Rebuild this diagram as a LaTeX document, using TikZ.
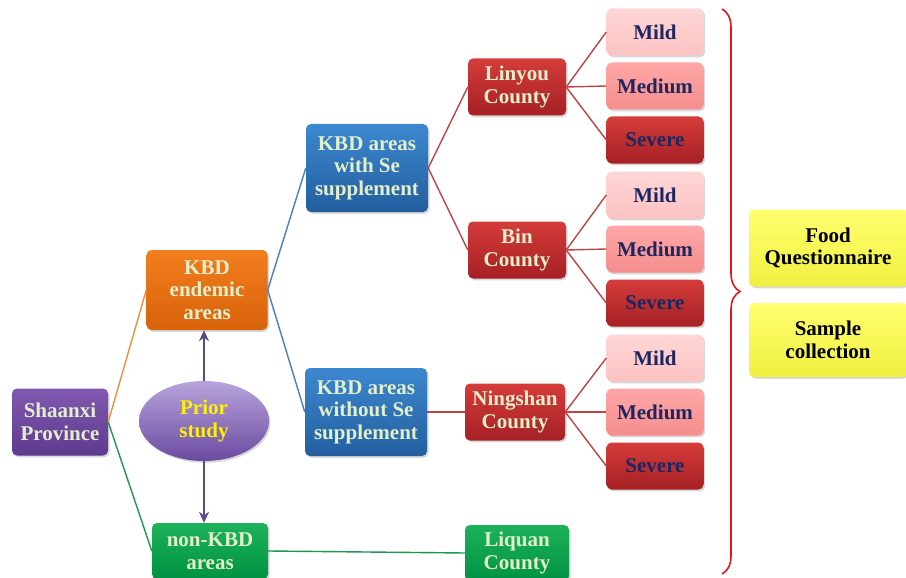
\documentclass[tikz,border=0pt]{standalone}
\usepackage{fontspec}
\setmainfont{Liberation Serif}
\newfontfamily\tnrbold{Liberation Serif Bold}
\usetikzlibrary{shadows,decorations.pathreplacing,arrows.meta,shapes.geometric}
\definecolor{txtlight}{HTML}{E2EFCB}
\definecolor{navy}{HTML}{1C2660}
\definecolor{purpT}{HTML}{8058B0}\definecolor{purpB}{HTML}{5E3A8E}
\definecolor{oranT}{HTML}{F27E1E}\definecolor{oranB}{HTML}{D8620A}
\definecolor{grenT}{HTML}{1DB25A}\definecolor{grenB}{HTML}{009243}
\definecolor{bluT}{HTML}{3C88D0}\definecolor{bluB}{HTML}{235E9E}
\definecolor{redT}{HTML}{D43C3A}\definecolor{redB}{HTML}{A62024}
\definecolor{mildT}{HTML}{FFD6D6}\definecolor{mildB}{HTML}{FDC2C2}
\definecolor{medT}{HTML}{FFA6A6}\definecolor{medB}{HTML}{F58E8E}
\definecolor{yelT}{HTML}{FFFF70}\definecolor{yelB}{HTML}{F0F040}
\definecolor{lnOrange}{HTML}{F0903A}
\definecolor{lnGreen}{HTML}{1A9A4A}
\definecolor{lnBlue}{HTML}{4A7EC0}
\definecolor{lnRed}{HTML}{C04444}
\definecolor{lnPurple}{HTML}{5A4A8A}
\definecolor{braceRed}{HTML}{E01818}
\definecolor{ellT}{HTML}{B8A4DC}\definecolor{ellB}{HTML}{6A4AA0}
\tikzset{
  boxfont/.style={font=\tnrbold\fontsize{21}{22.5}\selectfont},
  box/.style={rounded corners=5pt, align=center, inner sep=2pt, boxfont,
    drop shadow={shadow xshift=1.5pt, shadow yshift=-1.8pt, opacity=0.3}},
  purplebox/.style={box, top color=purpT, bottom color=purpB, text=txtlight},
  orangebox/.style={box, top color=oranT, bottom color=oranB, text=txtlight},
  greenbox/.style={box, top color=grenT, bottom color=grenB, text=txtlight},
  bluebox/.style={box, top color=bluT, bottom color=bluB, text=txtlight, minimum width=122pt, minimum height=88pt},
  countybox/.style={box, top color=redT, bottom color=redB, text=txtlight, minimum width=100pt, minimum height=57pt},
  mildbox/.style={box, top color=mildT, bottom color=mildB, text=navy, minimum width=97pt, minimum height=47pt},
  medbox/.style={box, top color=medT, bottom color=medB, text=navy, minimum width=97pt, minimum height=47pt},
  sevbox/.style={box, top color=redT, bottom color=redB, text=navy, minimum width=97pt, minimum height=47pt},
  yellowbox/.style={box, top color=yelT, bottom color=yelB, text=black, minimum width=158pt},
  conn/.style={line width=1.4pt},
  arrowline/.style={line width=2.6pt, draw=lnPurple, -{Stealth[length=11pt,width=10pt]}},
}
\begin{document}
\begin{tikzpicture}[x=1pt,y=-1pt]
\useasboundingbox (0,0) rectangle (906,578);
\fill[white] (0,0) rectangle (906,578);
% nodes
\node[purplebox, minimum width=96pt, minimum height=67pt] (shaanxi) at (60,422) {Shaanxi\\Province};
\node[orangebox, minimum width=121pt, minimum height=80pt] (endemic) at (207,290) {KBD\\endemic\\areas};
\node[greenbox, minimum width=116pt, minimum height=56pt] (nonkbd) at (210,551) {non-KBD\\areas};
\node[ellipse, minimum width=130pt, minimum height=80pt, top color=ellT, bottom color=ellB,
      text=yellow, boxfont, align=center,
      drop shadow={shadow xshift=1.5pt, shadow yshift=-1.8pt, opacity=0.3}] (prior) at (204,421) {Prior\\study};
\node[bluebox] (withse) at (367,168) {KBD areas\\with Se\\supplement};
\node[bluebox] (without) at (366,412) {KBD areas\\without Se\\supplement};
\node[countybox, minimum width=98pt] (linyou) at (517,87) {Linyou\\County};
\node[countybox, minimum width=98pt] (bin) at (517,250) {Bin\\County};
\node[countybox] (ningshan) at (515,412) {Ningshan\\County};
\node[greenbox, minimum width=104pt, minimum height=56pt] (liquan) at (517,553) {Liquan\\County};
\node[mildbox] (m1) at (655,32) {Mild};
\node[medbox] (d1) at (655,86) {Medium};
\node[sevbox] (s1) at (655,140) {Severe};
\node[mildbox] (m2) at (655,195) {Mild};
\node[medbox] (d2) at (655,249) {Medium};
\node[sevbox] (s2) at (655,303) {Severe};
\node[mildbox] (m3) at (655,358) {Mild};
\node[medbox] (d3) at (655,412) {Medium};
\node[sevbox] (s3) at (655,466) {Severe};
\node[yellowbox, minimum height=77pt] (food) at (828,248) {Food\\Questionnaire};
\node[yellowbox, minimum height=74pt] (sample) at (828,340) {Sample\\collection};
% connectors
\draw[conn, lnOrange] (shaanxi.east) -- (endemic.west);
\draw[conn, lnGreen] (shaanxi.east) -- (nonkbd.west);
\draw[conn, lnGreen] (nonkbd.east) -- (liquan.west);
\draw[conn, lnBlue] (endemic.east) -- (withse.west);
\draw[conn, lnBlue] (endemic.east) -- (without.west);
\draw[conn, lnRed] (withse.east) -- (linyou.west);
\draw[conn, lnRed] (withse.east) -- (bin.west);
\draw[conn, lnRed] (without.east) -- (ningshan.west);
\foreach \c/\a/\b/\d in {linyou/m1/d1/s1, bin/m2/d2/s2, ningshan/m3/d3/s3}{
  \draw[conn, lnRed] (\c.east) -- (\a.west);
  \draw[conn, lnRed] (\c.east) -- (\b.west);
  \draw[conn, lnRed] (\c.east) -- (\d.west);
}
\draw[arrowline] (prior.north) -- (prior.north |- endemic.south);
\draw[arrowline] (prior.south) -- (prior.south |- nonkbd.north);
% brace
\coordinate (btop) at (722,9);
\coordinate (bbot) at (722,574);
\draw[braceRed, line width=1.6pt, decorate, decoration={brace, amplitude=18pt}] (btop) -- (bbot);
\end{tikzpicture}
\end{document}
